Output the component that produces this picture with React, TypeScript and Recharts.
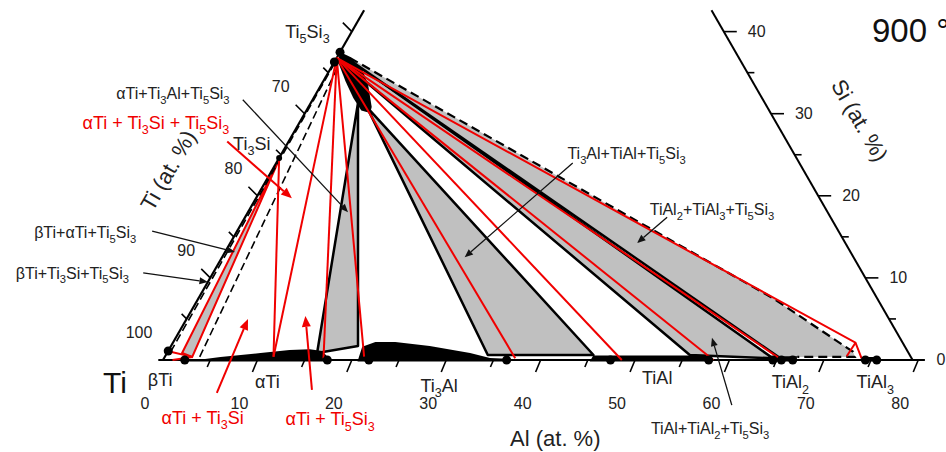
import React from "react";
import { ScatterChart, Scatter, XAxis, YAxis } from "recharts";

// every point is a composition [Al, Si] in at.%  (Ti = 100 - Al - Si)
type P = [number, number];

// ---- black section, 900 °C ----
const TI5SI3_FIELD: P[] = [[0, 37.5], [1.4, 36.9], [3.5, 35.3], [5.1, 33.3], [6.7, 30.8], [6.9, 30.1], [5.8, 30.4], [4.2, 31.9], [2.4, 33.9], [0.4, 36.3]];
const ATI_FIELD: P[] = [[2.5, -0.2], [5.9, 0.37], [9.9, 0.85], [12.8, 1.2], [14.9, 1.3], [16.3, 1.1], [17.1, 0.5], [17.5, -0.2]];
const TI3AL_FIELD: P[] = [[20.7, -0.2], [20.3, 1.6], [21.4, 2.2], [23.5, 2.2], [27.4, 1.7], [32.1, 0.85], [34.5, 0.25], [36.4, 0.15], [36.5, -0.2]];
const TIAL_FIELD: P[] = [[45.3, 0.55], [57.8, 0.55], [58.0, -0.2], [45.3, -0.2]];
const TIAL2_FIELD: P[] = [[64.3, 0.45], [67.0, 0.45], [67.0, -0.2], [64.3, -0.2]];
const TIAL3_FIELD: P[] = [[74.2, 0.35], [75.8, 0.35], [75.8, -0.2], [74.2, -0.2]];

const TRI_ATI_TI3AL: P[] = [[5.0, 31.3], [15.9, 0.85], [19.8, 1.7]];
const TRI_TI3AL_TIAL: P[] = [[6.2, 30.8], [34.1, 0.6], [45.3, 0.6]];
const TRI_TIAL_TIAL2: P[] = [[2.4, 35.3], [55.5, 0.6], [64.5, 0.2], [1.4, 36.6]];
const TRI_TIAL2_TIAL3: P[] = [[1.4, 36.6], [65.3, 0.2], [67.0, 0.37], [73.1, 0.37], [72.6, 1.0], [60.8, 7.55], [1.4, 36.8]];
const TIAL2_TIE: P[] = [[1.4, 36.6], [65.3, 0.2]];
const TIAL3_BOUNDARY: P[] = [[1.4, 36.8], [60.8, 7.55], [72.6, 1.0], [73.1, 0.37], [67.0, 0.37]];
const BTI_BOUNDARY_1: P[] = [[0.3, 1.0], [0.1, 36.3]];
const BTI_BOUNDARY_2: P[] = [[3.7, 0.37], [0.6, 36.3]];

const SIDE_TI_SI: P[] = [[0, 0], [0, 42.6]];
const SIDE_CUT: P[] = [[79.4, 0], [36.8, 42.6]];
const SIDE_TI_AL: P[] = [[-0.5, 0], [80.7, 0]];

const PHASE_POINTS: P[] = [[0, 37.5], [0, 36.3], [0, 1.1], [2.3, 0], [17.4, 0], [21.8, 0], [36.4, 0], [47.4, 0], [57.8, 0], [64.6, 0], [65.5, 0], [66.7, 0], [74.4, 0], [75.6, 0]];
const TI3SI_POINT: P[] = [[0, 24.6]];

// ---- red section ----
const RED_TI5SI3: P = [0, 36.8];
const RED_TI3SI: P = [0.1, 24.4];
const RED_FAN_ENDS: P[] = [[11.5, 0.4], [16.9, 0.2], [21.1, 0.4], [37.2, 0.2], [48.6, 0], [58.3, 0], [65.2, 0.2]];
const RED_TIAL3_EDGE: P[] = [RED_TI5SI3, [72.3, 2.1], [73.9, 0.2]];
const RED_TIAL3_CLOSE: P[] = [[72.3, 2.1], [72.2, 0.45]];
const RED_BTI_BAND: P[] = [[1.6, 0.85], [2.9, 0.37], RED_TI3SI];
const RED_TI3SI_TIE: P[] = [RED_TI3SI, [11.5, 0.4]];
const RED_CORNER_1: P[] = [[0.3, 1.0], [2.9, 0.37]];
const RED_CORNER_2: P[] = [[1.0, 0], [2.9, 0.37]];

// ---- axes ----
const AL_TICKS = [5, 10, 15, 20, 25, 30, 35, 40, 45, 50, 55, 60, 65, 70, 75, 80];
const AL_LABELS = [0, 10, 20, 30, 40, 50, 60, 70, 80];
const SI_TICKS = [5, 10, 15, 20, 25, 30, 35, 40];
const TI_LABELS = [100, 90, 80, 70];
const SI_LABELS = [0, 10, 20, 30, 40];
const CUT_AL_PLUS_SI = 79.4;

// ---- annotations ----
const PHASE_NAMES = ["Ti_5Si_3", "Ti_3Si", "βTi", "αTi", "Ti_3Al", "TiAl", "TiAl_2", "TiAl_3"];
const PHASE_NAME_AT: P[] = [[-4.7, 40.0], [-3.8, 26.4], [0.9, -2.4], [12.4, -2.7], [30.8, -3.1], [53.4, -2.1], [67.8, -2.7], [76.8, -2.7]];

const FIELD_NAMES = ["αTi+Ti_3Al+Ti_5Si_3", "Ti_3Al+TiAl+Ti_5Si_3", "TiAl_2+TiAl_3+Ti_5Si_3", "TiAl+TiAl_2+Ti_5Si_3", "βTi+αTi+Ti_5Si_3", "βTi+Ti_3Si+Ti_5Si_3"];
const FIELD_NAME_AT: P[] = [[-15.2, 32.5], [36.5, 25.2], [49.0, 18.3], [62.1, -8.3], [-16.0, 15.5], [-14.9, 10.6]];
const FIELD_ARROWS: P[][] = [
  [[-7.4, 31.7], [10.6, 18.0]],
  [[31.4, 24.0], [25.7, 12.5]],
  [[44.7, 17.4], [43.1, 14.25]],
  [[63.0, -5.5], [56.8, 2.7]],
  [[-9.0, 15.7], [1.05, 13.15]],
  [[-7.4, 10.6], [0.0, 9.5]],
];

const RED_NAMES = ["αTi + Ti_3Si + Ti_5Si_3", "αTi + Ti_3Si", "αTi + Ti_5Si_3"];
const RED_NAME_AT: P[] = [[-15.2, 28.9], [7.7, -7.0], [21.3, -7.2]];
const RED_ARROWS: P[][] = [
  [[-6.5, 26.6], [3.8, 19.7]],
  [[7.7, -4.0], [6.5, 5.0]],
  [[17.6, -3.65], [12.4, 5.36]],
];

const AXIS_TITLES = ["Al (at. %)", "Ti (at. %)", "Si (at. %)"];
const AXIS_TITLE_AT: P[] = [[46.3, -9.5], [-11.0, 23.1], [59.2, 29.2]];
const BIG_LABELS = ["Ti", "900 °C"];
const BIG_LABEL_AT: P[] = [[-3.7, -2.8], [55.0, 40.2]];

const FONT = "'Liberation Sans', Arial, sans-serif";
const RED = "#f00000";
const GREY = "#c0c0c0";

const xyOf = ([al, si]: P) => ({ x: al + si / 2, y: si });
const toXY = (pts: P[]) => pts.map(xyOf);

const pathOf = (pts: { x: number; y: number }[], close: boolean) =>
  pts.map((q, i) => `${i ? "L" : "M"}${q.x.toFixed(1)},${q.y.toFixed(1)}`).join(" ") + (close ? " Z" : "");

const noShape = () => <g />;

function geo(key: string, pts: P[], style: Record<string, any>, close = false) {
  return (
    <Scatter
      key={key}
      data={toXY(pts)}
      shape={noShape}
      line={(p: any) => <path d={pathOf(p.points, close)} fill="none" {...style} />}
      isAnimationActive={false}
    />
  );
}

function arrow(key: string, pts: P[], color: string, width: number, head: number) {
  return (
    <Scatter
      key={key}
      data={toXY(pts)}
      shape={noShape}
      line={(p: any) => {
        const [a, b] = p.points;
        const ang = Math.atan2(b.y - a.y, b.x - a.x);
        const L = head * 2.4, hw = head;
        const bx = b.x - L * Math.cos(ang), by = b.y - L * Math.sin(ang);
        const h1 = `${bx + hw * Math.sin(ang)},${by - hw * Math.cos(ang)}`;
        const h2 = `${bx - hw * Math.sin(ang)},${by + hw * Math.cos(ang)}`;
        return (
          <g>
            <line x1={a.x} y1={a.y} x2={bx} y2={by} stroke={color} strokeWidth={width} />
            <polygon points={`${b.x},${b.y} ${h1} ${h2}`} fill={color} />
          </g>
        );
      }}
      isAnimationActive={false}
    />
  );
}

// "_5" -> subscript 5
function chem(s: string, fs: number) {
  const out: React.ReactNode[] = [];
  const re = /_(\d)/g;
  let last = 0, k = 0, low = false, m: RegExpExecArray | null;
  while ((m = re.exec(s))) {
    if (m.index > last) {
      out.push(<tspan key={k++} dy={low ? -fs * 0.3 : 0}>{s.slice(last, m.index)}</tspan>);
      low = false;
    }
    out.push(<tspan key={k++} dy={low ? 0 : fs * 0.3} fontSize={fs * 0.7}>{m[1]}</tspan>);
    low = true;
    last = re.lastIndex;
  }
  if (last < s.length) out.push(<tspan key={k++} dy={low ? -fs * 0.3 : 0}>{s.slice(last)}</tspan>);
  return out;
}

function texts(key: string, names: string[], at: P[], fs: number, color: string, rotate: number[] = [], anchor = "middle") {
  const data = names.map((t, i) => ({ ...xyOf(at[i]), text: t, rot: rotate[i] ?? 0 }));
  return (
    <Scatter
      key={key}
      data={data}
      isAnimationActive={false}
      shape={(p: any) => (
        <text
          x={p.cx}
          y={p.cy + fs * 0.35}
          fontSize={fs}
          fill={color}
          fontFamily={FONT}
          textAnchor={anchor}
          transform={p.payload.rot ? `rotate(${p.payload.rot},${p.cx},${p.cy})` : undefined}
        >
          {chem(p.payload.text, fs)}
        </text>
      )}
    />
  );
}

export default function App() {
  const alTicks = AL_TICKS.map((a) => ({ x: a, y: 0, major: a % 10 === 0 }));
  const alLabels = AL_LABELS.map((a) => ({ x: a, y: 0, label: a }));
  const leftTicks = SI_TICKS.map((s) => ({ ...xyOf([0, s]), major: s % 10 === 0 }));
  const leftLabels = TI_LABELS.map((t) => ({ ...xyOf([0, 100 - t]), label: t }));
  const rightTicks = SI_TICKS.map((s) => ({ ...xyOf([CUT_AL_PLUS_SI - s, s]), major: s % 10 === 0 }));
  const rightLabels = SI_LABELS.map((s) => ({ ...xyOf([CUT_AL_PLUS_SI - s, s]), label: s }));

  const tickText = (x: number, y: number, label: number, anchor = "middle") => (
    <text x={x} y={y + 5.5} fontSize={16} fontFamily={FONT} textAnchor={anchor} fill="#222">{label}</text>
  );

  return (
    <div style={{ position: "absolute", left: 0, top: 0, background: "#fff" }}>
      <ScatterChart width={946} height={452} margin={{ top: 0, right: 0, bottom: 0, left: 0 }}>
        <XAxis type="number" dataKey="x" domain={[-17.27, 82.94]} allowDataOverflow hide />
        <YAxis type="number" dataKey="y" domain={[-11.21, 43.85]} allowDataOverflow hide />

        {geo("triA", TRI_ATI_TI3AL, { fill: GREY, stroke: "#000", strokeWidth: 2.5, strokeLinejoin: "round" }, true)}
        {geo("triB", TRI_TI3AL_TIAL, { fill: GREY, stroke: "#000", strokeWidth: 2.5, strokeLinejoin: "round" }, true)}
        {geo("triC", TRI_TIAL_TIAL2, { fill: GREY, stroke: "#000", strokeWidth: 2.5, strokeLinejoin: "round" }, true)}
        {geo("triD", TRI_TIAL2_TIAL3, { fill: GREY }, true)}
        {geo("redBand", RED_BTI_BAND, { fill: GREY, stroke: RED, strokeWidth: 2 }, true)}

        {geo("ti5si3", TI5SI3_FIELD, { fill: "#000" }, true)}
        {geo("ati", ATI_FIELD, { fill: "#000" }, true)}
        {geo("ti3al", TI3AL_FIELD, { fill: "#000" }, true)}
        {geo("tial", TIAL_FIELD, { fill: "#000" }, true)}
        {geo("tial2", TIAL2_FIELD, { fill: "#000" }, true)}
        {geo("tial3", TIAL3_FIELD, { fill: "#000" }, true)}

        {geo("tial2tie", TIAL2_TIE, { stroke: "#000", strokeWidth: 2.5 })}
        {geo("tial3b", TIAL3_BOUNDARY, { stroke: "#000", strokeWidth: 2.2, strokeDasharray: "9 5" })}
        {geo("bti1", BTI_BOUNDARY_1, { stroke: "#000", strokeWidth: 1.6, strokeDasharray: "8 4" })}
        {geo("bti2", BTI_BOUNDARY_2, { stroke: "#000", strokeWidth: 1.6, strokeDasharray: "8 4" })}
        {geo("sideTiSi", SIDE_TI_SI, { stroke: "#000", strokeWidth: 2.2 })}
        {geo("sideCut", SIDE_CUT, { stroke: "#000", strokeWidth: 2 })}
        {geo("sideTiAl", SIDE_TI_AL, { stroke: "#000", strokeWidth: 2.2 })}

        {RED_FAN_ENDS.map((e, i) => geo(`redFan${i}`, [RED_TI5SI3, e], { stroke: RED, strokeWidth: 2 }))}
        {geo("redTial3", RED_TIAL3_EDGE, { stroke: RED, strokeWidth: 2 })}
        {geo("redTial3c", RED_TIAL3_CLOSE, { stroke: RED, strokeWidth: 2 })}
        {geo("redTi3si", RED_TI3SI_TIE, { stroke: RED, strokeWidth: 2 })}
        {geo("redC1", RED_CORNER_1, { stroke: RED, strokeWidth: 2 })}
        {geo("redC2", RED_CORNER_2, { stroke: RED, strokeWidth: 2 })}

        <Scatter
          data={toXY(PHASE_POINTS)}
          isAnimationActive={false}
          shape={(p: any) => <circle cx={p.cx} cy={p.cy} r={4.5} fill="#000" />}
        />
        <Scatter
          data={toXY(TI3SI_POINT)}
          isAnimationActive={false}
          shape={(p: any) => <circle cx={p.cx} cy={p.cy} r={3} fill="#000" />}
        />

        <Scatter
          data={alTicks}
          isAnimationActive={false}
          shape={(p: any) => (
            <line x1={p.cx} y1={p.cy} x2={p.cx - (p.payload.major ? 5 : 3)} y2={p.cy + (p.payload.major ? 12 : 7)} stroke="#000" strokeWidth={1.6} />
          )}
        />
        <Scatter data={alLabels} isAnimationActive={false} shape={(p: any) => tickText(p.cx - 18, p.cy + 44, p.payload.label)} />
        <Scatter
          data={leftTicks}
          isAnimationActive={false}
          shape={(p: any) => (
            <line x1={p.cx} y1={p.cy} x2={p.cx - (p.payload.major ? 9 : 5)} y2={p.cy - (p.payload.major ? 9 : 5)} stroke="#000" strokeWidth={1.6} />
          )}
        />
        <Scatter data={leftLabels} isAnimationActive={false} shape={(p: any) => tickText(p.cx - 24, p.cy - 27, p.payload.label)} />
        <Scatter
          data={rightTicks}
          isAnimationActive={false}
          shape={(p: any) => (
            <line x1={p.cx} y1={p.cy} x2={p.cx + (p.payload.major ? 13 : 7)} y2={p.cy} stroke="#000" strokeWidth={1.6} />
          )}
        />
        <Scatter data={rightLabels} isAnimationActive={false} shape={(p: any) => tickText(p.cx + 24, p.cy, p.payload.label, "start")} />

        {texts("phaseNames", PHASE_NAMES, PHASE_NAME_AT, 18, "#222")}
        {texts("fieldNames", FIELD_NAMES, FIELD_NAME_AT, 16, "#222")}
        {texts("redNames", RED_NAMES, RED_NAME_AT, 18, RED)}
        {texts("axisTitles", AXIS_TITLES, AXIS_TITLE_AT, 22, "#222", [0, -60, 60])}
        {texts("bigTi", BIG_LABELS.slice(0, 1), BIG_LABEL_AT.slice(0, 1), 30, "#111")}
        {texts("temp", BIG_LABELS.slice(1), BIG_LABEL_AT.slice(1), 33, "#111", [], "start")}

        {FIELD_ARROWS.map((a, i) => arrow(`fa${i}`, a, "#111", 1.3, 3.5))}
        {RED_ARROWS.map((a, i) => arrow(`ra${i}`, a, RED, 2, 4.5))}
      </ScatterChart>
    </div>
  );
}
